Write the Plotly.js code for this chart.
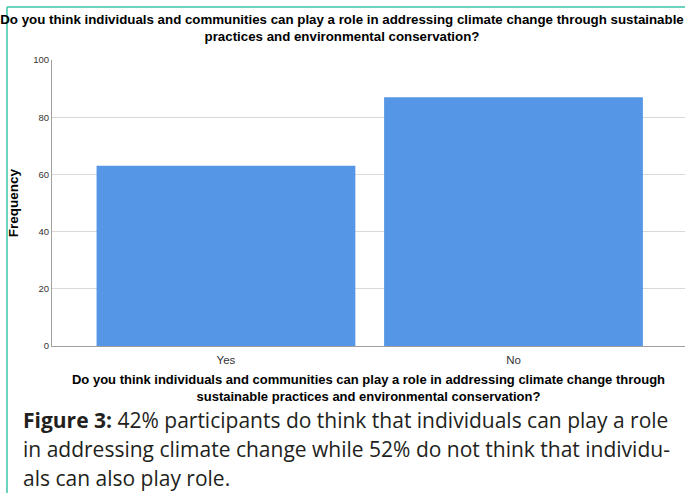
<!DOCTYPE html>
<html>
<head>
<meta charset="utf-8">
<script src="https://cdn.plot.ly/plotly-3.0.1.min.js"></script>
<style>html,body{margin:0;padding:0;background:#fff;}#chart{width:685px;height:493px;}</style>
</head>
<body>
<div id="chart"></div>
<script>
const categories = ["Yes", "No"];
const frequencies = [63, 87];
const yTickValues = [0, 20, 40, 60, 80, 100];
const chartTitle = "Do you think individuals and communities can play a role in addressing climate change through sustainable<br>practices and environmental conservation?";
const xAxisTitle = "Do you think individuals and communities can play a role in addressing climate change through<br>sustainable practices and environmental conservation?";
const yAxisTitle = "Frequency";
const captionLines = [
  "<b>Figure 3:</b> 42% participants do think that individuals can play a role",
  "in addressing climate change while 52% do not think that individu-",
  "als can also play role."
];

const W = 685, H = 493;
const m = {l: 52, r: 0, t: 60, b: 147};
const pw = W - m.l - m.r, ph = H - m.t - m.b;
const px = v => (v - m.l) / pw;
const py = v => (H - m.b - v) / ph;

const trace = {
  type: "bar",
  x: categories,
  y: frequencies,
  width: 0.9,
  marker: {color: "#5596e6", line: {width: 0}},
  hoverinfo: "x+y"
};

const captionY = [420, 449, 478];
const annotations = captionLines.map((t, i) => ({
  text: t, xref: "paper", yref: "paper",
  x: px(21), y: py(captionY[i]), xanchor: "left", yanchor: "middle",
  showarrow: false, align: "left",
  font: {family: "Open Sans", size: 21, color: "#231f20"}
}));

const layout = {
  width: W, height: H,
  margin: m,
  paper_bgcolor: "#ffffff",
  plot_bgcolor: "#ffffff",
  showlegend: false,
  title: {
    text: chartTitle,
    font: {family: "Liberation Sans, Arial", size: 13.3, color: "#000", weight: "bold"},
    xref: "paper", x: px(342), xanchor: "center",
    yref: "container", y: 1 - 24 / H, yanchor: "top"
  },
  xaxis: {
    type: "category",
    range: [-0.605, 1.5965],
    showgrid: false,
    showline: true, linecolor: "#a0a0a0", linewidth: 1,
    ticks: "",
    ticklabelstandoff: 3,
    tickfont: {family: "Liberation Sans, Arial", size: 11.5, color: "#333"},
    title: {text: xAxisTitle, standoff: 10,
      font: {family: "Liberation Sans, Arial", size: 13, color: "#000", weight: "bold"}},
    automargin: false,
    fixedrange: true
  },
  yaxis: {
    range: [0, 100],
    tickvals: yTickValues,
    showgrid: true, gridcolor: "#d9d9d9", gridwidth: 1,
    showline: true, linecolor: "#a0a0a0", linewidth: 1,
    zeroline: false,
    ticks: "",
    tickfont: {family: "Liberation Sans, Arial", size: 9.5, color: "#333"},
    title: {text: yAxisTitle, standoff: 11,
      font: {family: "Liberation Sans, Arial", size: 13.5, color: "#000", weight: "bold"}},
    automargin: false,
    fixedrange: true
  },
  shapes: [
    {type: "line", xref: "paper", yref: "paper", x0: px(7), x1: 1.01, y0: py(7), y1: py(7),
     line: {color: "#3cc4a8", width: 1.5}},
    {type: "line", xref: "paper", yref: "paper", x0: px(7), x1: px(7), y0: py(7), y1: py(500),
     line: {color: "#3cc4a8", width: 1.5}}
  ],
  annotations: annotations
};

Plotly.newPlot("chart", [trace], layout, {displayModeBar: false, staticPlot: true});
</script>
</body>
</html>
